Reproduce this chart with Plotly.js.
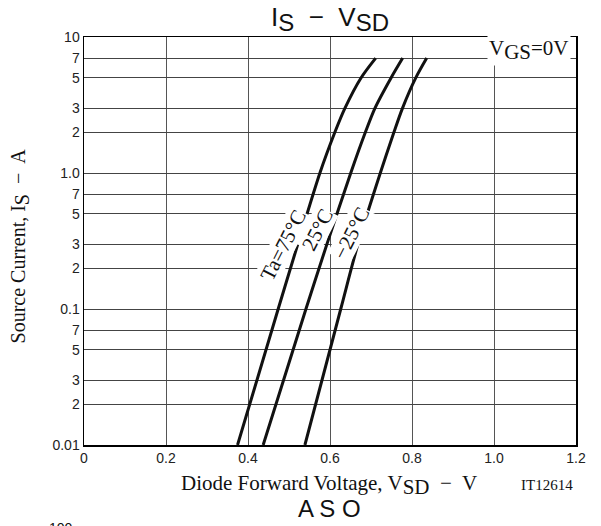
<!DOCTYPE html>
<html>
<head>
<meta charset="utf-8">
<script src="https://cdn.plot.ly/plotly-3.0.1.min.js"></script>
<style>html,body{margin:0;padding:0;background:#fff;}#chart{width:601px;height:526px;}</style>
</head>
<body>
<div id="chart"></div>
<script>
// Data (Is vs Vsd), lightly smoothed readings
const currentA = [0.01, 0.1, 0.3, 1.0, 2, 3, 5, 7];
const vsd_75  = [0.3745, 0.4736, 0.5215, 0.5754, 0.6121, 0.6365, 0.6755, 0.7114];
const vsd_25  = [0.4370, 0.5413, 0.5925, 0.6506, 0.6865, 0.7097, 0.7488, 0.7773];
const vsd_m25 = [0.5388, 0.6262, 0.6682, 0.7227, 0.7561, 0.7769, 0.8091, 0.8359];
const seriesNames = ["Ta=75°C", "25°C", "−25°C"];
const yTickVals = [0.01, 0.02, 0.03, 0.05, 0.07, 0.1, 0.2, 0.3, 0.5, 0.7, 1, 2, 3, 5, 7, 10];
const yTickText = ["0.01", "2", "3", "5", "7", "0.1", "2", "3", "5", "7", "1.0", "2", "3", "5", "7", "10"];
const xTickVals = [0, 0.2, 0.4, 0.6, 0.8, 1.0, 1.2];
const xTickText = ["0", "0.2", "0.4", "0.6", "0.8", "1.0", "1.2"];

const serif = "Liberation Serif, Times New Roman, serif";
const sans = "Liberation Sans, Arial, sans-serif";
const sub = (t, px) => '<sub><span style="font-size:' + px + 'px">' + t + '</span></sub>';

const mk = (x, name) => ({
  x: x, y: currentA, name: name, type: "scatter", mode: "lines",
  line: {color: "#111", width: 3, shape: "spline", smoothing: 0.8},
  hoverinfo: "skip"
});

const data = [mk(vsd_75, seriesNames[0]), mk(vsd_25, seriesNames[1]), mk(vsd_m25, seriesNames[2])];

const layout = {
  width: 601, height: 526,
  margin: {l: 84, r: 25, t: 37, b: 81},
  paper_bgcolor: "#fff", plot_bgcolor: "#fff",
  showlegend: false,
  xaxis: {
    range: [0, 1.2], tickvals: xTickVals, ticktext: xTickText,
    showgrid: true, gridcolor: "#555", gridwidth: 1, zeroline: false,
    showline: true, linecolor: "#000", linewidth: 1.5, mirror: true,
    ticks: "", ticklen: 0,
    tickfont: {family: sans, size: 14, color: "#222"}
  },
  yaxis: {
    type: "log", range: [-2, 1], tickvals: yTickVals, ticktext: yTickText,
    showgrid: true, gridcolor: "#444", gridwidth: 1, zeroline: false,
    showline: true, linecolor: "#000", linewidth: 1.5, mirror: true,
    ticks: "", ticklen: 0,
    tickfont: {family: sans, size: 14, color: "#222"}
  },
  annotations: [
    {xref: "paper", yref: "paper", x: 0.5, y: 1.045, text: "I" + sub("S", 24) + "  −  V" + sub("SD", 24),
     showarrow: false, xanchor: "center", yanchor: "middle", font: {family: sans, size: 26, color: "#111"}},
    {xref: "paper", yref: "paper", x: 0.498, y: -0.098, text: "Diode Forward Voltage, V" + sub("SD", 21) + "  −  V",
     showarrow: false, xanchor: "center", yanchor: "middle", font: {family: serif, size: 21, color: "#111"}},
    {xref: "paper", yref: "paper", x: 0.942, y: -0.098, text: "IT12614",
     showarrow: false, xanchor: "center", yanchor: "middle", font: {family: serif, size: 15, color: "#111"}},
    {xref: "paper", yref: "paper", x: 0.498, y: -0.156, text: "A S O",
     showarrow: false, xanchor: "center", yanchor: "middle", font: {family: sans, size: 24, color: "#111"}},
    {xref: "paper", yref: "paper", x: -0.046, y: -0.204, text: "100",
     showarrow: false, xanchor: "center", yanchor: "middle", font: {family: sans, size: 14, color: "#111"}},
    {xref: "paper", yref: "paper", x: -0.131, y: 0.488, text: "Source Current, I" + sub("S", 20) + "  −  A",
     textangle: -90, showarrow: false, xanchor: "center", yanchor: "middle", font: {family: serif, size: 20, color: "#111"}},
    {xref: "paper", yref: "paper", x: 0.990, y: 0.969, text: "V" + sub("GS", 21) + "=0V",
     showarrow: false, xanchor: "right", yanchor: "middle", bgcolor: "#fff", borderpad: 1,
     font: {family: serif, size: 21, color: "#111"}},
    {xref: "x", yref: "y", x: 0.486, y: Math.log10(0.296), text: seriesNames[0], textangle: -63,
     showarrow: false, bgcolor: "#fff", borderpad: 0, font: {family: serif, size: 21, color: "#111"}},
    {xref: "x", yref: "y", x: 0.569, y: Math.log10(0.381), text: seriesNames[1], textangle: -63,
     showarrow: false, bgcolor: "#fff", borderpad: 0, font: {family: serif, size: 21, color: "#111"}},
    {xref: "x", yref: "y", x: 0.653, y: Math.log10(0.360), text: seriesNames[2], textangle: -63,
     showarrow: false, bgcolor: "#fff", borderpad: 0, font: {family: serif, size: 21, color: "#111"}}
  ]
};

Plotly.newPlot("chart", data, layout, {staticPlot: true, displayModeBar: false});
</script>
</body>
</html>
